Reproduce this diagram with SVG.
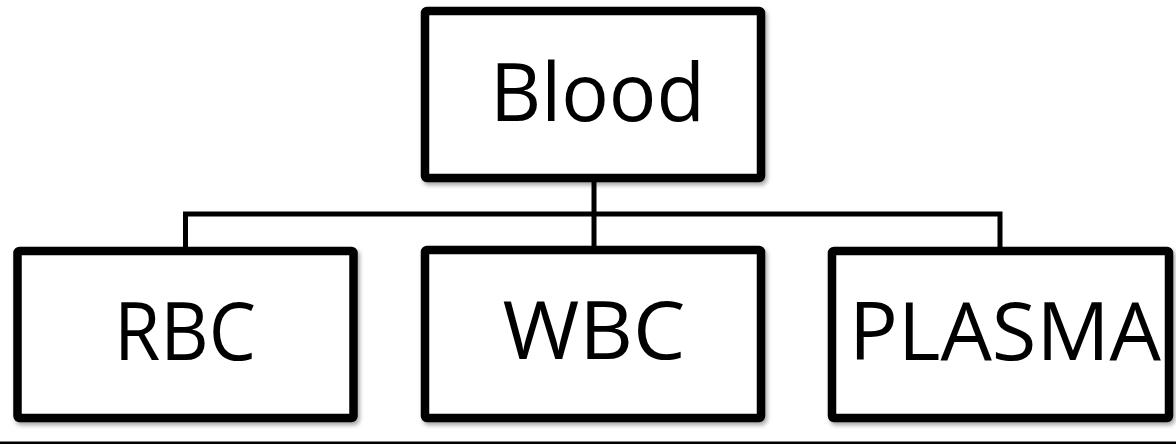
<svg xmlns="http://www.w3.org/2000/svg" width="1176" height="444" viewBox="0 0 1176 444">
<defs>
<filter id="sh" x="-5%" y="-5%" width="115%" height="120%">
<feDropShadow dx="2" dy="3" stdDeviation="2" flood-color="#000" flood-opacity="0.35"/>
</filter>
<style>
.box{fill:#fff;stroke:#000;stroke-width:8.5;stroke-linejoin:round;filter:url(#sh)}
.lbl{font-family:"Open Sans","Liberation Sans",sans-serif;font-size:81px;fill:#000;text-anchor:middle}
.con{fill:none;stroke:#000;stroke-width:5}
</style>
</defs>
<rect width="1176" height="444" fill="#fff"/>
<g id="connectors">
<line class="con" x1="594" y1="178" x2="594" y2="250"/>
<polyline class="con" points="185.5,251 185.5,214 1000,214 1000,251"/>
</g>
<g id="blood">
<rect class="box" x="425" y="11" width="336" height="167" rx="2"/>
<text class="lbl" x="597.5" y="121" textLength="215" lengthAdjust="spacingAndGlyphs">Blood</text>
</g>
<g id="rbc">
<rect class="box" x="17.5" y="251" width="336" height="167" rx="2"/>
<text class="lbl" x="185" y="360" textLength="142" lengthAdjust="spacingAndGlyphs">RBC</text>
</g>
<g id="wbc">
<rect class="box" x="425" y="250" width="336" height="168" rx="2"/>
<text class="lbl" x="594" y="359" textLength="183" lengthAdjust="spacingAndGlyphs">WBC</text>
</g>
<g id="plasma">
<rect class="box" x="832" y="251" width="337" height="167" rx="2"/>
<text class="lbl" x="1005" y="360" textLength="312" lengthAdjust="spacingAndGlyphs">PLASMA</text>
</g>
<line x1="0" y1="442.8" x2="1176" y2="442.8" stroke="#000" stroke-width="2.6"/>
</svg>
